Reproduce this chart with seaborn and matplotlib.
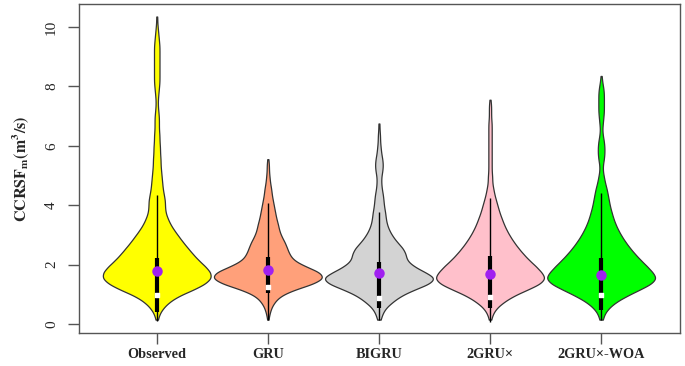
import numpy as np
import pandas as pd
import seaborn as sns
from matplotlib import pyplot as plt

models = ["Observed", "GRU", "BIGRU", "2GRU×", "2GRU×-WOA"]
colors = ["#FFFF00", "#FFA07A", "#D3D3D3", "#FFC0CB", "#00FF00"]

# CCRSF levels (m3/s), bins 0.2 wide
flow_levels = [0.15, 0.35, 0.55, 0.75, 0.95, 1.15, 1.35, 1.55, 1.75, 1.95,
               2.15, 2.35, 2.55, 2.75, 2.95, 3.15, 3.35, 3.55, 3.75, 3.95,
               4.15, 4.35, 4.55, 4.75, 4.95, 5.15, 5.35, 5.55, 5.75, 5.95,
               6.15, 6.35, 6.55, 6.75, 6.95, 7.15, 7.35, 7.55, 7.75, 7.95,
               8.15, 8.35, 8.55, 8.75, 8.95, 9.15, 9.35, 9.55, 9.75, 9.95,
               10.15, 10.35]

# number of values in each bin
observed_counts = [2, 5, 12, 23, 40, 66, 88, 100, 98, 88,
                   76, 66, 57, 48, 40, 32, 25, 20, 16, 15,
                   15, 13, 11, 10, 9, 8, 7, 7, 6, 6,
                   5, 5, 4, 4, 4, 3, 2, 2, 3, 4,
                   5, 5, 5, 5, 5, 5, 5, 4, 3, 2,
                   1, 1]
gru_counts = [1, 3, 6, 12, 22, 45, 80, 100, 92, 65,
              45, 38, 34, 30, 24, 20, 18, 15, 13, 11,
              9, 7, 6, 4, 3, 2, 2, 1]
bigru_counts = [3, 6, 12, 24, 38, 60, 88, 100, 80, 60,
                48, 47, 42, 32, 24, 18, 14, 12, 11, 9,
                8, 7, 5, 4, 4, 6, 7, 6, 4, 3,
                2, 2, 1, 1]
gru2_counts = [2, 5, 12, 25, 42, 66, 90, 100, 92, 82,
               70, 60, 51, 43, 36, 30, 25, 21, 17, 14,
               11, 8, 6, 4, 4, 3, 3, 3, 3, 3,
               3, 3, 3, 3, 2, 2, 2, 1]
woa_counts = [3, 6, 14, 27, 46, 68, 90, 100, 92, 82,
              71, 61, 52, 44, 37, 31, 26, 22, 19, 16,
              14, 12, 10, 7, 5, 3, 3, 5, 6, 6,
              5, 3, 2, 3, 4, 5, 5, 5, 5, 4,
              2, 1]

# inner boxplot and mean
whisker_low = [0.10, 0.13, 0.13, 0.08, 0.13]
q1 = [0.40, 1.05, 0.53, 0.54, 0.47]
median = [0.98, 1.26, 0.87, 0.92, 0.98]
q3 = [2.21, 2.27, 2.10, 2.29, 2.21]
whisker_high = [4.34, 4.06, 3.78, 4.23, 4.40]
means = [1.80, 1.82, 1.71, 1.67, 1.65]

all_counts = [observed_counts, gru_counts, bigru_counts, gru2_counts, woa_counts]
frames = []
for name, counts in zip(models, all_counts):
    vals = np.repeat(flow_levels[:len(counts)], counts)
    frames.append(pd.DataFrame({"model": name, "ccrsf": vals}))
df = pd.concat(frames, ignore_index=True)

sns.set_theme(style="white")
plt.rcParams["font.family"] = ["Liberation Serif", "DejaVu Serif"]
plt.rcParams["mathtext.fontset"] = "stix"

fig, ax = plt.subplots(figsize=(6.85, 3.66), dpi=100)
fig.subplots_adjust(left=0.1153, right=0.9927, bottom=0.0902, top=0.989)

# one call per model so every violin gets the same kernel width (~0.13)
for name, col in zip(models, colors):
    sub = df[df["model"] == name]
    bw = 0.13 / sub["ccrsf"].std()
    sns.violinplot(data=sub, x="model", y="ccrsf", order=models, color=col,
                   saturation=1, inner=None, cut=0, density_norm="width",
                   width=0.97, bw_method=bw, gridsize=400, linewidth=0.9,
                   linecolor="#333333", ax=ax)

pos = np.arange(len(models))
ax.vlines(pos, whisker_low, whisker_high, color="black", lw=1, zorder=3)
ax.vlines(pos, q1, q3, color="black", lw=3, zorder=3)
ax.scatter(pos, median, s=5, color="white", marker="s", zorder=4)
sns.pointplot(x=models, y=means, order=models, color="#A020F0",
              linestyle="none", markers="o", markersize=5.5, errorbar=None,
              ax=ax, zorder=5)

ax.set_xlim(-0.70, 4.71)
ax.set_ylim(-0.30, 10.77)
ax.set_yticks([0, 2, 4, 6, 8, 10])
ax.set_xticks(pos)
ax.set_xticklabels(models, fontweight="bold", fontsize=10.3)
plt.setp(ax.get_yticklabels(), rotation=90, va="center", fontsize=11)
ax.tick_params(axis="y", length=8, width=1, color="#555555", pad=7, left=True)
ax.tick_params(axis="x", length=8, width=1, color="#555555", pad=3, bottom=True)
ax.set_xlabel("")
ax.set_ylabel(r"$\mathbf{CCRSF_m(m^3/s)}$", fontsize=11.5, labelpad=10)
for s in ax.spines.values():
    s.set_color("#555555")
    s.set_linewidth(1)

plt.savefig("out.png", dpi=100)
